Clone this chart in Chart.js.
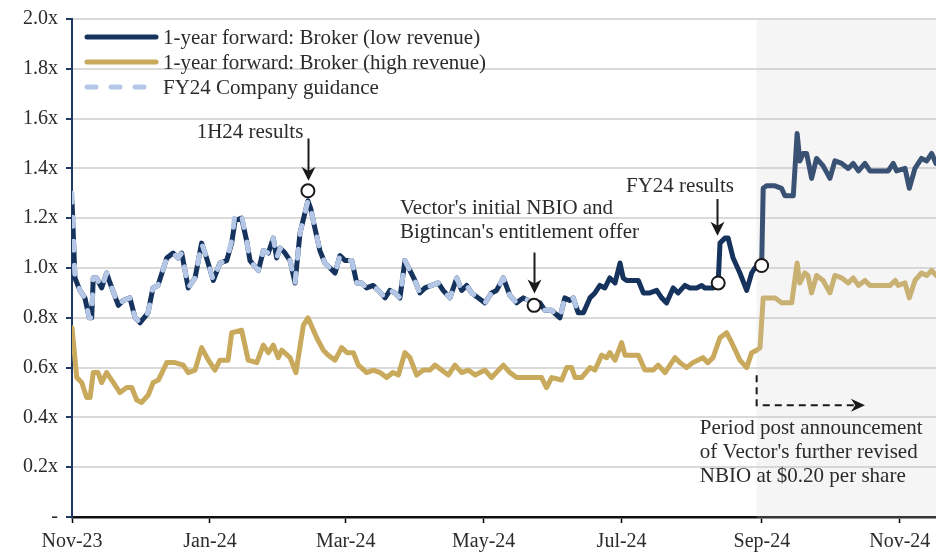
<!DOCTYPE html>
<html>
<head>
<meta charset="utf-8">
<script src="https://cdn.jsdelivr.net/npm/chart.js@4.4.1/dist/chart.umd.min.js"></script>
<style>
  html, body { margin: 0; padding: 0; background: #ffffff; }
  #wrap { width: 936px; height: 553px; }
</style>
</head>
<body>
<div id="wrap"><canvas id="c" width="936" height="553"></canvas></div>
<script>
// ---- x axis: days counted from 1 Nov 2023 ----
const tickDays   = [0, 61, 121, 182, 243, 305, 366];
const tickLabels = ['Nov-23', 'Jan-24', 'Mar-24', 'May-24', 'Jul-24', 'Sep-24', 'Nov-24'];
const xMaxDay = 382;

// ---- y axis ----
const yTickValues = [0, 0.2, 0.4, 0.6, 0.8, 1.0, 1.2, 1.4, 1.6, 1.8, 2.0];
const yTickLabels = ['-', '0.2x', '0.4x', '0.6x', '0.8x', '1.0x', '1.2x', '1.4x', '1.6x', '1.8x', '2.0x'];

// ---- 1-year forward multiple: broker (low revenue) ----
const lowDays = [
  0, 1.3, 3.5, 5.7, 7.6, 8.7, 9.4, 10.9, 13.1, 15.3,
  16.8, 20.5, 22.7, 25.6, 27.9, 30.1, 33.6, 35.8, 38.0, 41.9,
  44.7, 46.9, 48.5, 51.4, 54.4, 57.3, 59.5, 62.5, 65.4, 68.4,
  70.6, 72.1, 75.0, 77.2, 78.7, 82.4, 84.6, 86.8, 89.0, 90.5,
  92.0, 94.2, 96.4, 98.6, 100.8, 104.3, 105.5, 107.4, 109.6, 111.8,
  114.1, 116.3, 118.5, 120.7, 123.7, 125.9, 128.1, 130.3, 133.2, 135.4,
  138.4, 140.6, 142.8, 145.0, 147.2, 149.4, 151.6, 153.8, 156.1, 159.0,
  161.9, 164.1, 167.1, 170.1, 172.3, 174.5, 176.7, 179.6, 182.6, 185.5,
  187.7, 190.7, 193.6, 196.6, 199.5, 201.7, 204.3, 206.9, 209.1, 212.1,
  215.7, 217.9, 220.2, 221.6, 223.8, 226.1, 229.0, 231.2, 233.4, 235.6,
  237.8, 240.1, 242.3, 243.7, 245.2, 248.1, 250.4, 252.6, 255.5, 258.5,
  260.7, 262.9, 265.8, 268.0, 271.0, 273.2, 276.2, 278.4, 279.8, 283.5,
  285.7, 286.5, 288.7, 290.1, 292.3, 295.3, 298.3, 300.5, 301.9, 304.9,
  305.6, 307.1, 310.8, 313.7, 315.2, 318.9, 320.6, 321.8, 323.3, 324.8,
  327.0, 329.2, 332.1, 335.1, 337.3, 340.3, 343.2, 345.4, 347.7, 350.6,
  352.8, 357.3, 360.9, 363.1, 364.6, 368.3, 370.2, 372.7, 375.6, 377.9,
  380.1, 382.0
];
const lowValues = [
  1.27, 0.96, 0.91, 0.88, 0.80, 0.80, 0.96, 0.96, 0.92, 0.98,
  0.94, 0.85, 0.87, 0.88, 0.80, 0.78, 0.82, 0.92, 0.93, 1.04,
  1.06, 1.04, 1.06, 0.92, 0.96, 1.10, 1.04, 0.95, 1.02, 1.03,
  1.10, 1.19, 1.20, 1.11, 1.03, 0.99, 1.07, 1.06, 1.12, 1.04,
  1.08, 1.06, 1.03, 0.94, 1.14, 1.27, 1.24, 1.16, 1.07, 1.02,
  1.00, 0.98, 1.05, 1.03, 1.03, 0.94, 0.94, 0.92, 0.93, 0.91,
  0.88, 0.91, 0.90, 0.88, 1.03, 0.99, 0.95, 0.90, 0.92, 0.93,
  0.94, 0.91, 0.88, 0.96, 0.91, 0.93, 0.90, 0.88, 0.86, 0.90,
  0.91, 0.96, 0.89, 0.86, 0.88, 0.87, 0.85, 0.86, 0.83, 0.83,
  0.80, 0.88, 0.87, 0.88, 0.82, 0.82, 0.88, 0.90, 0.93, 0.92,
  0.96, 0.94, 1.02, 0.96, 0.95, 0.95, 0.95, 0.90, 0.90, 0.91,
  0.88, 0.86, 0.92, 0.90, 0.93, 0.92, 0.92, 0.93, 0.92, 0.92,
  0.94, 1.10, 1.12, 1.12, 1.04, 0.98, 0.91, 0.98, 1.00, 1.00,
  1.32, 1.33, 1.33, 1.32, 1.29, 1.29, 1.54, 1.43, 1.46, 1.46,
  1.36, 1.44, 1.41, 1.36, 1.43, 1.42, 1.40, 1.42, 1.39, 1.42,
  1.39, 1.39, 1.39, 1.42, 1.39, 1.40, 1.32, 1.40, 1.44, 1.43,
  1.46, 1.42
];

// ---- FY24 company guidance basis (shares the first dates of lowDays) ----
const guidanceValues = [
  1.30, 0.96, 0.91, 0.88, 0.80, 0.80, 0.96, 0.96, 0.92, 0.98,
  0.94, 0.85, 0.87, 0.88, 0.80, 0.78, 0.82, 0.92, 0.93, 1.04,
  1.06, 1.04, 1.06, 0.92, 0.96, 1.10, 1.04, 0.95, 1.02, 1.03,
  1.11, 1.22, 1.21, 1.11, 1.03, 0.99, 1.07, 1.06, 1.12, 1.04,
  1.08, 1.06, 1.03, 0.94, 1.14, 1.27, 1.24, 1.16, 1.07, 1.02,
  1.00, 0.98, 1.05, 1.03, 1.03, 0.94, 0.94, 0.92, 0.93, 0.91,
  0.88, 0.91, 0.90, 0.88, 1.03, 0.99, 0.95, 0.90, 0.92, 0.93,
  0.94, 0.91, 0.88, 0.96, 0.91, 0.93, 0.90, 0.88, 0.86, 0.90,
  0.91, 0.96, 0.89, 0.86, 0.88, 0.87, 0.85, 0.86, 0.83, 0.83,
  0.80, 0.88, 0.87, 0.88, 0.82, 0.82
];

// ---- 1-year forward multiple: broker (high revenue) ----
const highDays = [
  0, 2.1, 4.3, 6.5, 8.0, 9.4, 11.5, 13.1, 15.3, 18.3,
  21.2, 24.2, 26.4, 28.6, 30.8, 33.7, 35.9, 38.2, 41.9, 45.5,
  49.2, 51.4, 54.4, 57.3, 60.3, 63.2, 65.4, 69.0, 70.6, 75.0,
  77.9, 81.7, 84.6, 86.8, 89.0, 91.2, 92.7, 96.4, 99.0, 102.3,
  104.3, 108.2, 111.1, 113.3, 116.3, 119.2, 121.6, 124.4, 126.6, 130.3,
  133.2, 136.2, 139.1, 141.9, 144.3, 147.2, 149.4, 152.4, 155.3, 158.3,
  160.5, 163.4, 166.4, 169.3, 172.3, 175.2, 178.2, 182.6, 185.5, 190.7,
  193.6, 196.6, 199.5, 203.9, 207.6, 209.8, 212.1, 216.5, 218.7, 220.9,
  222.4, 225.3, 229.0, 231.2, 234.2, 236.4, 237.8, 240.1, 243.0, 244.5,
  246.7, 250.4, 253.3, 257.0, 259.2, 262.2, 264.4, 266.6, 268.8, 271.7,
  274.5, 278.9, 281.1, 283.4, 286.5, 289.4, 291.7, 295.3, 298.3, 300.5,
  302.7, 304.2, 305.6, 310.8, 313.7, 318.2, 320.6, 321.8, 324.0, 325.4,
  327.0, 329.2, 332.1, 335.1, 337.3, 340.3, 343.2, 345.4, 347.7, 350.6,
  352.8, 361.7, 364.0, 365.3, 368.3, 370.2, 372.7, 375.6, 377.9, 380.1,
  382.0
];
const highValues = [
  0.76, 0.56, 0.54, 0.48, 0.48, 0.58, 0.58, 0.54, 0.58, 0.54,
  0.50, 0.52, 0.52, 0.47, 0.46, 0.49, 0.54, 0.55, 0.62, 0.62,
  0.61, 0.58, 0.59, 0.68, 0.63, 0.59, 0.63, 0.63, 0.74, 0.75,
  0.63, 0.62, 0.69, 0.66, 0.69, 0.64, 0.67, 0.64, 0.58, 0.77,
  0.80, 0.72, 0.67, 0.65, 0.63, 0.68, 0.66, 0.66, 0.61, 0.58,
  0.59, 0.58, 0.56, 0.58, 0.57, 0.66, 0.64, 0.57, 0.59, 0.59,
  0.61, 0.59, 0.57, 0.61, 0.58, 0.59, 0.57, 0.59, 0.56, 0.61,
  0.58, 0.56, 0.56, 0.56, 0.56, 0.52, 0.56, 0.55, 0.60, 0.60,
  0.56, 0.56, 0.60, 0.59, 0.65, 0.64, 0.66, 0.63, 0.70, 0.65,
  0.65, 0.65, 0.59, 0.59, 0.61, 0.58, 0.61, 0.64, 0.62, 0.60,
  0.62, 0.64, 0.62, 0.64, 0.72, 0.74, 0.70, 0.63, 0.60, 0.66,
  0.67, 0.68, 0.88, 0.88, 0.86, 0.86, 1.02, 0.94, 0.98, 0.97,
  0.90, 0.97, 0.95, 0.90, 0.97, 0.96, 0.94, 0.96, 0.93, 0.95,
  0.93, 0.93, 0.95, 0.93, 0.94, 0.88, 0.95, 0.98, 0.97, 0.99,
  0.97
];

// ---- event markers ----
const eventDays   = [104.3, 204.3, 285.7, 304.9];
const eventValues = [1.31, 0.85, 0.94, 1.01];
const revisedNbioDay = 302.7;   // start of the period after the revised NBIO

const seriesNames = [
  '1-year forward: Broker (low revenue)',
  '1-year forward: Broker (high revenue)',
  'FY24 Company guidance'
];

const NAVY = '#15335c';
const GOLD = '#c9aa5d';
const LIGHT = '#b4c7e7';
const TEXT = '#2b2b2b';
const FONT = '21px "Liberation Serif", "Times New Roman", serif';

const toPoints = (days, vals) => vals.map((v, i) => ({ x: days[i], y: v }));

// Callouts, anchored in data units
const callouts = [
  { lines: ['1H24 results'], align: 'center', day: 78.7, values: [1.543],
    arrow: { day: 104.4, from: 1.52, to: 1.35 } },
  { lines: ["Vector's initial NBIO and", "Bigtincan's entitlement offer"], align: 'left', day: 145, values: [1.241, 1.142],
    arrow: { day: 204.3, from: 1.062, to: 0.898 } },
  { lines: ['FY24 results'], align: 'center', day: 268.8, values: [1.328],
    arrow: { day: 285.3, from: 1.277, to: 1.13 } },
  { lines: ['Period post announcement', "of Vector's further revised", 'NBIO at $0.20 per share'], align: 'left', day: 277.6, values: [0.357, 0.261, 0.164] }
];

function arrowHead(ctx, x, y, angle, len, half) {
  ctx.save();
  ctx.translate(x, y);
  ctx.rotate(angle);
  ctx.beginPath();
  ctx.moveTo(0, 0);
  ctx.lineTo(-len, -half);
  ctx.lineTo(-len * 0.7, 0);
  ctx.lineTo(-len, half);
  ctx.closePath();
  ctx.fill();
  ctx.restore();
}

const shadePlugin = {
  id: 'shade',
  afterDatasetDraw(chart, args) {
    if (args.index !== 2) return;
    const { ctx, chartArea, scales } = chart;
    const x0 = scales.x.getPixelForValue(revisedNbioDay);
    ctx.save();
    ctx.fillStyle = 'rgba(205,205,205,0.2)';
    ctx.fillRect(x0, chartArea.top - 1, chartArea.right - x0, chartArea.bottom - chartArea.top + 3);
    ctx.restore();
  }
};

const calloutPlugin = {
  id: 'callouts',
  afterDraw(chart) {
    const { ctx, scales } = chart;
    const xs = scales.x, ys = scales.y;
    ctx.save();
    ctx.font = FONT;
    ctx.fillStyle = TEXT;
    ctx.textBaseline = 'middle';
    callouts.forEach(c => {
      ctx.textAlign = c.align;
      const px = xs.getPixelForValue(c.day);
      c.lines.forEach((t, i) => ctx.fillText(t, px, ys.getPixelForValue(c.values[i])));
      if (c.arrow) {
        const ax = Math.round(xs.getPixelForValue(c.arrow.day)) + 0.5;
        const y1 = ys.getPixelForValue(c.arrow.from);
        const y2 = ys.getPixelForValue(c.arrow.to);
        ctx.strokeStyle = '#1a1a1a';
        ctx.fillStyle = '#1a1a1a';
        ctx.lineWidth = 2;
        ctx.beginPath();
        ctx.moveTo(ax, y1);
        ctx.lineTo(ax, y2 - 8);
        ctx.stroke();
        arrowHead(ctx, ax, y2, Math.PI / 2, 14, 7);
        ctx.fillStyle = TEXT;
      }
    });

    // dashed elbow arrow marking the post-announcement period
    const dx = xs.getPixelForValue(revisedNbioDay);
    const yA = ys.getPixelForValue(0.569);
    const yB = ys.getPixelForValue(0.449);
    const xEnd = xs.getPixelForValue(350.6);
    ctx.strokeStyle = '#1a1a1a';
    ctx.fillStyle = '#1a1a1a';
    ctx.lineWidth = 2;
    ctx.setLineDash([7, 5]);
    ctx.beginPath();
    ctx.moveTo(dx, yA);
    ctx.lineTo(dx, yB);
    ctx.lineTo(xEnd - 8, yB);
    ctx.stroke();
    ctx.setLineDash([]);
    arrowHead(ctx, xEnd, yB, 0, 14, 6.5);

    // legend
    const lx0 = 87, lx1 = 156, ltx = 163, ly = [37, 62, 87];
    const styles = [
      { color: NAVY, dash: [] },
      { color: GOLD, dash: [] },
      { color: LIGHT, dash: [9, 15] }
    ];
    ctx.lineCap = 'round';
    ctx.lineWidth = 5;
    styles.forEach((s, i) => {
      ctx.strokeStyle = s.color;
      ctx.setLineDash(s.dash);
      ctx.beginPath();
      ctx.moveTo(lx0, ly[i]);
      ctx.lineTo(lx1, ly[i]);
      ctx.stroke();
    });
    ctx.setLineDash([]);
    ctx.fillStyle = TEXT;
    ctx.textAlign = 'left';
    seriesNames.forEach((n, i) => ctx.fillText(n, ltx, ly[i] + 1));
    ctx.restore();
  }
};

new Chart(document.getElementById('c'), {
  type: 'line',
  data: {
    datasets: [
      { label: seriesNames[0], data: toPoints(lowDays, lowValues), borderColor: NAVY, borderWidth: 5,
        pointRadius: 0, tension: 0, borderJoinStyle: 'round', borderCapStyle: 'round', order: 2 },
      { label: seriesNames[1], data: toPoints(highDays, highValues), borderColor: GOLD, borderWidth: 5,
        pointRadius: 0, tension: 0, borderJoinStyle: 'round', borderCapStyle: 'round', order: 3 },
      { label: seriesNames[2], data: toPoints(lowDays, guidanceValues), borderColor: LIGHT, borderWidth: 5,
        borderDash: [9, 15], borderCapStyle: 'round', borderJoinStyle: 'round',
        pointRadius: 0, tension: 0, order: 1 },
      { label: 'Events', data: toPoints(eventDays, eventValues), showLine: false,
        pointRadius: 6.5, pointBorderWidth: 2, pointBackgroundColor: '#ffffff',
        pointBorderColor: '#1a1a1a', order: 0 }
    ]
  },
  options: {
    responsive: false,
    devicePixelRatio: 1,
    animation: false,
    events: [],
    layout: { autoPadding: false, padding: { top: 19, right: 0, left: 0, bottom: 0 } },
    plugins: { legend: { display: false }, tooltip: { enabled: false } },
    scales: {
      x: {
        type: 'linear',
        min: 0,
        max: xMaxDay,
        afterBuildTicks: s => { s.ticks = tickDays.map(v => ({ value: v })); },
        afterFit: s => { s.height = 36; s.paddingLeft = 0; s.paddingRight = 0; },
        ticks: {
          callback: (v, i) => tickLabels[i],
          autoSkip: false, maxRotation: 0, padding: 7,
          color: TEXT, font: { family: '"Liberation Serif", serif', size: 20 }
        },
        grid: { drawOnChartArea: false, drawTicks: true, tickLength: 6, tickColor: '#000', tickWidth: 1.5 },
        border: { display: true, color: '#111', width: 2.5 }
      },
      y: {
        min: 0,
        max: 2,
        afterBuildTicks: s => { s.ticks = yTickValues.map(v => ({ value: v })); },
        afterFit: s => { s.width = 72; s.paddingTop = 0; s.paddingBottom = 0; },
        ticks: {
          callback: (v, i) => yTickLabels[i],
          padding: 8,
          color: TEXT, font: { family: '"Liberation Serif", serif', size: 20 }
        },
        grid: { color: '#dadada', lineWidth: 2, tickColor: '#1f3864', tickLength: 6, tickWidth: 2 },
        border: { display: true, color: '#1f3864', width: 2 }
      }
    }
  },
  plugins: [shadePlugin, calloutPlugin]
});
</script>
</body>
</html>
